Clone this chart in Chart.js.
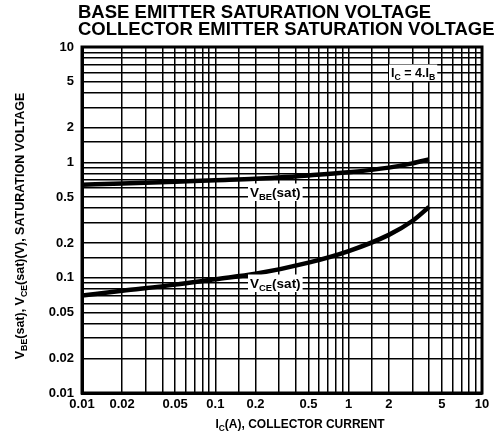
<!DOCTYPE html>
<html lang="en">
<head>
    <meta charset="UTF-8">
    <title>Saturation Voltage</title>
    <script src="https://cdn.jsdelivr.net/npm/chart.js"></script>
    <style>
        body { margin: 0; background: #fff; }
        #chart { display: block; }
    </style>
</head>
<body>
    <canvas id="chart" width="498" height="439"></canvas>
    <script>
        // collector current (A) and read-off voltages
        const currentA = [0.01, 0.02, 0.05, 0.1, 0.2, 0.5, 1, 2, 3, 4];
        const vbeSat = [0.64, 0.655, 0.68, 0.70, 0.72, 0.77, 0.82, 0.90, 0.98, 1.06];
        const vceSat = [0.070, 0.077, 0.087, 0.097, 0.108, 0.135, 0.17, 0.235, 0.31, 0.41];
        const labelValues = [0.01, 0.02, 0.05, 0.1, 0.2, 0.5, 1, 2, 5, 10];

        const FONT = '"Liberation Sans", Arial, sans-serif';

        function tickLabel(v) {
            const hit = labelValues.find(l => Math.abs(l - v) / l < 1e-6);
            return hit === undefined ? '' : String(hit);
        }

        // text with a subscript part: [[text, isSub], ...]
        function runs(ctx, parts, x, y, size, measureOnly) {
            let w = 0;
            parts.forEach(([t, sub]) => {
                ctx.font = 'bold ' + (sub ? size * 0.7 : size) + 'px ' + FONT;
                if (!measureOnly) ctx.fillText(t, x + w, y + (sub ? size * 0.25 : 0));
                w += ctx.measureText(t).width;
            });
            return w;
        }

        const decor = {
            id: 'decor',
            afterDraw(chart) {
                const ctx = chart.ctx;
                const a = chart.chartArea;
                ctx.save();
                ctx.fillStyle = '#000';
                ctx.textBaseline = 'alphabetic';

                // frame
                ctx.lineWidth = 3;
                ctx.strokeStyle = '#000';
                ctx.strokeRect(a.left, a.top, a.right - a.left, a.bottom - a.top);

                // title
                ctx.font = 'bold 18.5px ' + FONT;
                ctx.fillText('BASE EMITTER SATURATION VOLTAGE', 78, 18);
                ctx.fillText('COLLECTOR EMITTER SATURATION VOLTAGE', 78, 35);

                function boxed(parts, x, y, size) {
                    const w = runs(ctx, parts, 0, 0, size, true);
                    ctx.fillStyle = '#fff';
                    ctx.fillRect(x - 2, y - size, w + 4, size + 4);
                    ctx.fillStyle = '#000';
                    runs(ctx, parts, x, y, size);
                }
                boxed([['V', 0], ['BE', 1], ['(sat)', 0]], 250, 197, 13.5);
                boxed([['V', 0], ['CE', 1], ['(sat)', 0]], 250, 288, 13.5);
                boxed([['I', 0], ['C', 1], [' = 4.I', 0], ['B', 1]], 391, 77, 12.5);

                // x axis title
                const xParts = [['I', 0], ['C', 1], ['(A), COLLECTOR CURRENT', 0]];
                const xw = runs(ctx, xParts, 0, 0, 12, true);
                runs(ctx, xParts, 300 - xw / 2, 428, 12);

                // y axis title (rotated)
                const yParts = [['V', 0], ['BE', 1], ['(sat), V', 0], ['CE', 1], ['(sat)(V), SATURATION VOLTAGE', 0]];
                const yw = runs(ctx, yParts, 0, 0, 12.5, true);
                ctx.translate(24, 226);
                ctx.rotate(-Math.PI / 2);
                runs(ctx, yParts, -yw / 2, 0, 12.5);
                ctx.restore();
            }
        };

        new Chart(document.getElementById('chart'), {
            type: 'line',
            data: {
                datasets: [
                    {
                        label: 'VBE(sat)',
                        data: currentA.map((c, i) => ({ x: c, y: vbeSat[i] })),
                        borderColor: '#000', borderWidth: 4.5, pointRadius: 0,
                        cubicInterpolationMode: 'monotone', fill: false
                    },
                    {
                        label: 'VCE(sat)',
                        data: currentA.map((c, i) => ({ x: c, y: vceSat[i] })),
                        borderColor: '#000', borderWidth: 4.5, pointRadius: 0,
                        cubicInterpolationMode: 'monotone', fill: false
                    }
                ]
            },
            options: {
                responsive: false,
                animation: false,
                layout: { padding: { top: 47, right: 16, left: 0, bottom: 0 } },
                plugins: { legend: { display: false }, tooltip: { enabled: false } },
                scales: {
                    x: {
                        type: 'logarithmic', min: 0.01, max: 10,
                        afterFit: s => { s.height = 46; },
                        grid: { color: '#000', lineWidth: 1.5, drawTicks: false },
                        border: { color: '#000', width: 3 },
                        ticks: {
                            autoSkip: false, maxRotation: 0, padding: 4,
                            color: '#000', font: { family: FONT, size: 13, weight: 'bold' },
                            callback: v => tickLabel(v)
                        }
                    },
                    y: {
                        type: 'logarithmic', min: 0.01, max: 10,
                        afterFit: s => { s.width = 82; },
                        grid: { color: '#000', lineWidth: 1.5, drawTicks: false },
                        border: { color: '#000', width: 3 },
                        ticks: {
                            autoSkip: false, padding: 8,
                            color: '#000', font: { family: FONT, size: 13, weight: 'bold' },
                            callback: v => tickLabel(v)
                        }
                    }
                }
            },
            plugins: [decor]
        });
    </script>
</body>
</html>
